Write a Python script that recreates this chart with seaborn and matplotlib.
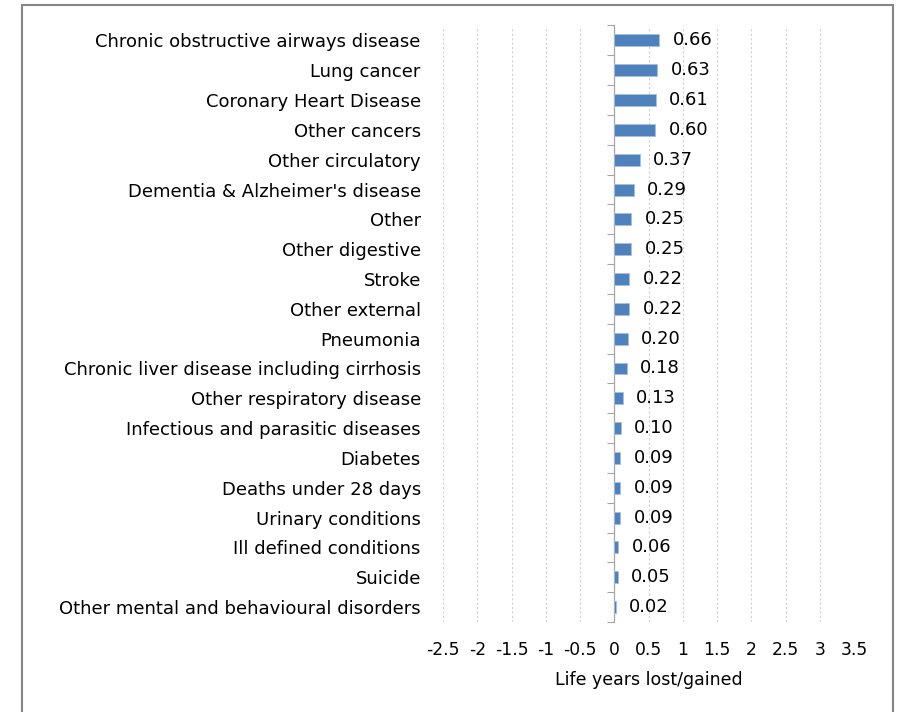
import matplotlib
matplotlib.use("Agg")
import matplotlib.pyplot as plt
import matplotlib.patches as mpatches
import seaborn as sns
import pandas as pd

causes = [
    "Chronic obstructive airways disease",
    "Lung cancer",
    "Coronary Heart Disease",
    "Other cancers",
    "Other circulatory",
    "Dementia & Alzheimer's disease",
    "Other",
    "Other digestive",
    "Stroke",
    "Other external",
    "Pneumonia",
    "Chronic liver disease including cirrhosis",
    "Other respiratory disease",
    "Infectious and parasitic diseases",
    "Diabetes",
    "Deaths under 28 days",
    "Urinary conditions",
    "Ill defined conditions",
    "Suicide",
    "Other mental and behavioural disorders",
]
years = [0.66, 0.63, 0.61, 0.60, 0.37, 0.29, 0.25, 0.25, 0.22, 0.22,
         0.20, 0.18, 0.13, 0.10, 0.09, 0.09, 0.09, 0.06, 0.05, 0.02]
x_ticks = [-2.5, -2, -1.5, -1, -0.5, 0, 0.5, 1, 1.5, 2, 2.5, 3, 3.5]
x_tick_labels = ["-2.5", "-2", "-1.5", "-1", "-0.5", "0", "0.5", "1",
                 "1.5", "2", "2.5", "3", "3.5"]
x_title = "Life years lost/gained"

df = pd.DataFrame({"cause": causes, "years": years})

sns.set_theme(style="white")
plt.rcParams["font.family"] = ["DejaVu Sans"]

fig = plt.figure(figsize=(8.99, 7.12), dpi=100)
ax = fig.add_axes([443 / 899, 1 - 622 / 712, (854 - 443) / 899, (622 - 25.5) / 712])

sns.barplot(data=df, x="years", y="cause", orient="h", color="#4F81BD",
            width=0.4, edgecolor="#a7bfdf", linewidth=0.6, saturation=1, ax=ax)

ax.set_xlim(-2.5, 3.5)
ax.set_ylim(len(causes) - 0.5, -0.5)
ax.set_xticks(x_ticks)
ax.set_xticklabels(x_tick_labels, fontsize=12.3, color="#000000")
ax.tick_params(axis="x", length=0, pad=14)
ax.tick_params(axis="y", length=0, pad=16, labelsize=13, labelcolor="#000000")
ax.set_xlabel(x_title, fontsize=12.5, color="#000000", labelpad=8)
ax.set_ylabel("")

# dashed vertical gridlines, except at zero where the value axis sits
ax.grid(False)
for t in x_ticks:
    if t != 0:
        ax.axvline(t, color="#d0d0d0", lw=0.8, ls=(0, (2, 2)), zorder=0)

for s in ax.spines.values():
    s.set_visible(False)

# category axis drawn at x = 0 with ticks between categories
zero_pos = (0 - (-2.5)) / (3.5 - (-2.5))
sec = ax.secondary_yaxis(zero_pos)
sec.set_yticks([i - 0.5 for i in range(len(causes) + 1)])
sec.set_yticklabels([])
sec.tick_params(axis="y", length=5, width=0.8, color="#a6a6a6", direction="out")
sec.spines["left"].set_color("#a6a6a6")
sec.spines["left"].set_linewidth(0.9)

# value labels
for i, v in enumerate(years):
    ax.annotate(f"{v:.2f}", xy=(v, i), xytext=(9.5, 0), textcoords="offset points",
                ha="left", va="center", fontsize=13, color="#000000")

# outer chart frame
fig.patches.append(mpatches.Rectangle((22 / 899, -0.02), (893 - 22) / 899, 1 - 5 / 712 + 0.02,
                                      transform=fig.transFigure, fill=False,
                                      edgecolor="#868686", linewidth=1.5))

fig.savefig("out.png", dpi=100)
